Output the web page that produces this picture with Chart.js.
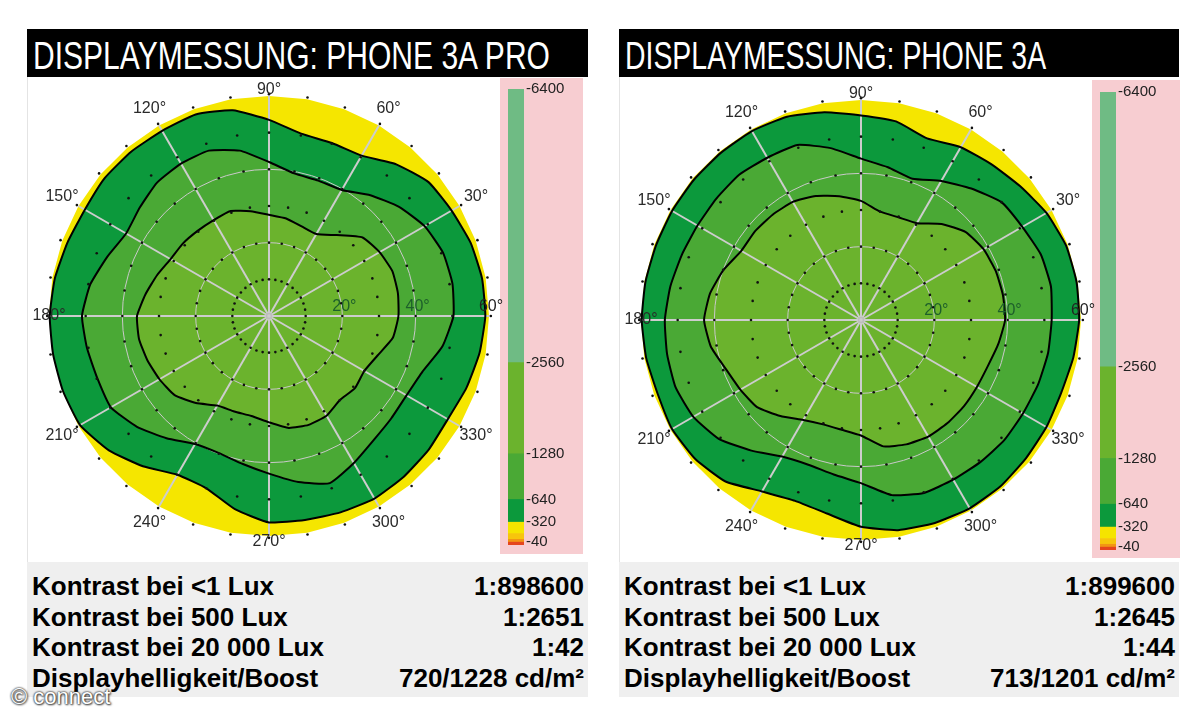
<!DOCTYPE html>
<html>
<head>
<meta charset="utf-8">
<title>Displaymessung</title>
<script src="https://cdn.jsdelivr.net/npm/chart.js@4.4.1/dist/chart.umd.min.js"></script>
<style>
  html, body { margin: 0; padding: 0; background: #fff; }
  body { position: relative; width: 1200px; height: 720px; overflow: hidden;
         font-family: "Liberation Sans", Arial, Helvetica, sans-serif; }
  .box { position: absolute; }
  .plot { top: 77px; height: 485px; background: #fff; border-left: 1px solid #e4e4e4; }
  .head { top: 29px; height: 48px; background: #000; color: #fff; overflow: hidden; }
  .head span { position: absolute; left: 6px; top: 5px; font-size: 38px; line-height: 44px;
               white-space: nowrap; transform-origin: 0 0; }
  .strip { background: #f7cdd1; }
  .table { top: 562px; height: 135px; background: #efefef; }
  .row { position: absolute; left: 5px; right: 4px; height: 30px; font-size: 26px; line-height: 30px;
         font-weight: bold; color: #000; white-space: nowrap; }
  .row span { position: absolute; right: 0; top: 0; }
  canvas { position: absolute; }
  #mark { position: absolute; left: 11px; top: 684px; font-size: 22px; color: #fff;
          text-shadow: 0 0 2px #333, 0 0 2px #333, 1px 1px 2px #555; }
</style>
</head>
<body>
<div class="box plot" style="left:27px;width:561px"></div>
<div class="box plot" style="left:619px;width:560px"></div>
<div class="box head" style="left:27px;width:561px"><span id="title1"></span></div>
<div class="box head" style="left:619px;width:560px"><span id="title2"></span></div>
<div class="box strip" style="left:500px;top:78px;width:83px;height:476px"></div>
<div class="box strip" style="left:1092px;top:80px;width:88px;height:478px"></div>
<div class="box table" id="table1" style="left:27px;width:561px"></div>
<div class="box table" id="table2" style="left:619px;width:560px"></div>

<canvas id="polar1" width="500" height="500" style="left:19px;top:66px"></canvas>
<canvas id="polar2" width="500" height="500" style="left:611px;top:70px"></canvas>
<canvas id="bar1" width="83" height="478" style="left:500px;top:78px"></canvas>
<canvas id="bar2" width="88" height="480" style="left:1092px;top:81px"></canvas>
<div id="mark">© connect</div>

<script>
/* -----------------------------------------------------------
   DATA
----------------------------------------------------------- */

// polar angle of every measurement direction (counter-clockwise, 0° = right)
const angles = [0, 10, 20, 30, 40, 50, 60, 70, 80, 90, 100, 110, 120, 130, 140, 150, 160, 170,
                180, 190, 200, 210, 220, 230, 240, 250, 260, 270, 280, 290, 300, 310, 320, 330, 340, 350];

// Phone 3A Pro: contour radii (viewing angle in degrees) per direction
const proOuter  = [59, 59, 58.5, 57.5, 56.8, 54, 50.5, 50.2, 50.5, 53.5, 57, 58.5, 58.3, 58.5, 58.5, 58, 58.5, 59.3,
                   59.8, 59.8, 59.8, 59.5, 57, 53.5, 50, 50, 53.5, 56.3, 56.5, 57, 57.5, 57.2, 56.8, 56.3, 57.3, 58.3];
const proMiddle = [50.3, 50.8, 50.5, 49, 46.3, 43, 39.7, 39.3, 39.5, 42, 45.8, 48, 48, 47.5, 46, 45, 47, 49.5,
                   51, 50.4, 49.8, 49.8, 47, 43.5, 40.3, 39.8, 41, 43, 46, 48.5, 46.3, 44.3, 43.5, 43.3, 44.5, 48];
const proInner  = [35.3, 35.7, 35.8, 34.8, 33.3, 28.8, 25.8, 26, 27, 27.6, 29, 30.5, 30.2, 30.3, 30.7, 31, 32.5, 34.2,
                   36, 36, 35.3, 34.5, 33.6, 31, 28.2, 27.7, 27.7, 29, 31, 31.6, 31.4, 30, 30.6, 30, 31.5, 34.3];

// Phone 3A
const a3Outer  = [59.5, 59.7, 59.5, 58.4, 56.7, 55.4, 54.4, 52.7, 55, 55.8, 57.5, 59, 59.5, 59.5, 59.5, 59.5, 59.5, 59.7,
                  59.8, 59.5, 59, 59.5, 59, 57.5, 54, 52.5, 53.6, 56.4, 58.2, 58.9, 59.3, 59.2, 58.7, 58.4, 58.1, 58.8];
const a3Middle = [52, 52.6, 52.2, 50.8, 50, 46.8, 43.8, 41, 42.3, 44, 47.6, 50.8, 51.1, 51.7, 51.5, 51.5, 52, 52.8,
                  53.5, 53.7, 53.8, 52.8, 50.5, 46.5, 43, 42, 42.8, 44.5, 48.5, 50.2, 50.3, 50.6, 51, 51, 51.4, 51.8];
const a3Inner  = [39.3, 39.3, 39.1, 38.6, 37.3, 34.2, 30.5, 29.8, 30, 32.5, 34.3, 36, 37.2, 37.5, 37.7, 37.7, 39.9, 41.8,
                  42.8, 41.6, 39.2, 38, 37, 34.2, 31.5, 30.3, 30.4, 31.5, 35, 36.1, 36.7, 36.7, 36.6, 36.5, 36.8, 38];

// measurement point rings and labels
const dotRings = [10, 20, 30, 40, 50, 60.5];
const spokeLabels = [30, 60, 90, 120, 150, 180, 210, 240, 270, 300, 330];
const ringLabels = [20, 40, 60];

// colour scale (contrast levels)
const barLevels = [0, -40, -80, -160, -320, -640, -1280, -2560, -6400];
const barColors = ["#e5451d", "#f29514", "#f7c50c", "#f5e400", "#0c993c", "#4aa935", "#6bb32d", "#6fbb84"];
const barTicks = [-6400, -2560, -1280, -640, -320, -40];

// table
const rowLabels = ["Kontrast bei <1 Lux", "Kontrast bei 500 Lux", "Kontrast bei 20 000 Lux", "Displayhelligkeit/Boost"];
const proValues = ["1:898600", "1:2651", "1:42", "720/1228 cd/m²"];
const a3Values  = ["1:899600", "1:2645", "1:44", "713/1201 cd/m²"];

/* -----------------------------------------------------------
   COLOURS
----------------------------------------------------------- */

const YELLOW = "#f5e600";
const DARK = "#0c993c";
const MID = "#4aa935";
const LIGHT = "#6bb32d";

/* -----------------------------------------------------------
   HEADERS + TABLES
----------------------------------------------------------- */

function setTitle(id, text, targetWidth) {
    const el = document.getElementById(id);
    el.textContent = text;
    el.style.transform = `scaleX(${targetWidth / el.offsetWidth})`;
}

function fillTable(id, values) {
    const table = document.getElementById(id);
    rowLabels.forEach((label, i) => {
        const row = document.createElement("div");
        row.className = "row";
        row.style.top = `${9 + i * 30.7}px`;
        row.textContent = label;
        const v = document.createElement("span");
        v.textContent = values[i];
        row.appendChild(v);
        table.appendChild(row);
    });
}

setTitle("title1", "DISPLAYMESSUNG: PHONE 3A PRO", 517);
setTitle("title2", "DISPLAYMESSUNG: PHONE 3A", 421);
fillTable("table1", proValues);
fillTable("table2", a3Values);

/* -----------------------------------------------------------
   POLAR PLOTS (radar chart, 0° on the right, counter-clockwise)
----------------------------------------------------------- */

// radar runs clockwise from startAngle, the plot runs counter-clockwise
function toRadar(arr) {
    return arr.map((_, i) => arr[(arr.length - i) % arr.length]);
}

const polarLabels = {
    id: "polarLabels",
    afterDraw(chart) {
        const s = chart.scales.r;
        const ctx = chart.ctx;
        const R = s.drawingArea;
        ctx.save();
        ctx.font = '16px "Liberation Sans", Arial, sans-serif';
        ctx.textAlign = "center";
        ctx.textBaseline = "middle";
        ctx.fillStyle = "#2a2a2a";
        spokeLabels.forEach(a => {
            const idx = (angles.length - angles.indexOf(a)) % angles.length;
            const off = a % 180 === 0 ? 0 : (a % 90 === 0 ? 6 : 19);
            const p = s.getPointPosition(idx, R + off);
            ctx.fillText(a + "°", p.x, p.y);
        });
        ringLabels.forEach(v => {
            const p = s.getPointPosition(0, s.getDistanceFromCenterForValue(v));
            ctx.fillStyle = v === 60 ? "#222" : "#1d5f2b";
            ctx.fillText(v + "°", p.x + 2, p.y - 9);
        });
        // small marker at the centre
        ctx.strokeStyle = "#bdbdbd";
        ctx.lineWidth = 1.5;
        ctx.beginPath();
        ctx.arc(s.xCenter, s.yCenter, 2.5, 0, Math.PI * 2);
        ctx.stroke();
        ctx.restore();
    }
};

function contour(values, color) {
    return {
        data: toRadar(values),
        backgroundColor: color,
        borderColor: "#000",
        borderWidth: 2,
        pointRadius: 0,
        fill: "origin",
        tension: 0.15
    };
}

function renderPolar(id, outer, middle, inner) {
    const dots = dotRings.map(r => ({
        data: angles.map(() => r),
        showLine: false,
        fill: false,
        pointRadius: 1.3,
        pointBorderWidth: 0,
        pointBackgroundColor: "#111",
        clip: false
    }));

    const disk = {
        data: angles.map(() => 60),
        backgroundColor: YELLOW,
        borderColor: "transparent",
        borderWidth: 0,
        pointRadius: 0,
        fill: "origin"
    };

    new Chart(document.getElementById(id), {
        type: "radar",
        data: {
            labels: toRadar(angles),
            datasets: [
                ...dots,
                contour(inner, LIGHT),
                contour(middle, MID),
                contour(outer, DARK),
                disk
            ]
        },
        options: {
            responsive: false,
            animation: false,
            layout: { padding: 30 },
            plugins: {
                legend: { display: false },
                tooltip: { enabled: false },
                filler: { drawTime: "beforeDraw" }
            },
            scales: {
                r: {
                    min: 0,
                    max: 60,
                    startAngle: 90,
                    ticks: { display: false, stepSize: 20 },
                    pointLabels: { display: false },
                    grid: {
                        circular: true,
                        lineWidth: 1,
                        color: c => (c.tick && c.tick.value < 60) ? "#c9c9c9" : "transparent"
                    },
                    angleLines: {
                        lineWidth: 2,
                        color: c => c.index % 3 === 0 ? "#cdcdcd" : "transparent"
                    }
                }
            }
        },
        plugins: [polarLabels]
    });
}

renderPolar("polar1", proOuter, proMiddle, proInner);
renderPolar("polar2", a3Outer, a3Middle, a3Inner);

/* -----------------------------------------------------------
   COLOUR SCALE BARS
----------------------------------------------------------- */

function renderBar(id, axisWidth) {
    const datasets = barColors.map((color, i) => ({
        data: [[barLevels[i], barLevels[i + 1]]],
        backgroundColor: color,
        borderWidth: 0,
        barPercentage: 1,
        categoryPercentage: 1,
        grouped: false
    }));

    new Chart(document.getElementById(id), {
        type: "bar",
        data: { labels: [""], datasets },
        options: {
            responsive: false,
            animation: false,
            layout: { padding: { left: 8, top: 9, bottom: 9, right: 0 } },
            plugins: { legend: { display: false }, tooltip: { enabled: false } },
            scales: {
                x: { display: false },
                y: {
                    position: "right",
                    reverse: true,
                    min: -6400,
                    max: 0,
                    grid: { display: false, drawTicks: false },
                    border: { display: false },
                    afterBuildTicks: s => { s.ticks = barTicks.map(v => ({ value: v })); },
                    afterFit: s => { s.width = axisWidth; },
                    ticks: {
                        padding: 2,
                        color: "#222",
                        font: { size: 15, family: '"Liberation Sans", Arial, sans-serif' },
                        callback: v => String(v)
                    }
                }
            }
        }
    });
}

renderBar("bar1", 59);
renderBar("bar2", 64);
</script>
</body>
</html>
